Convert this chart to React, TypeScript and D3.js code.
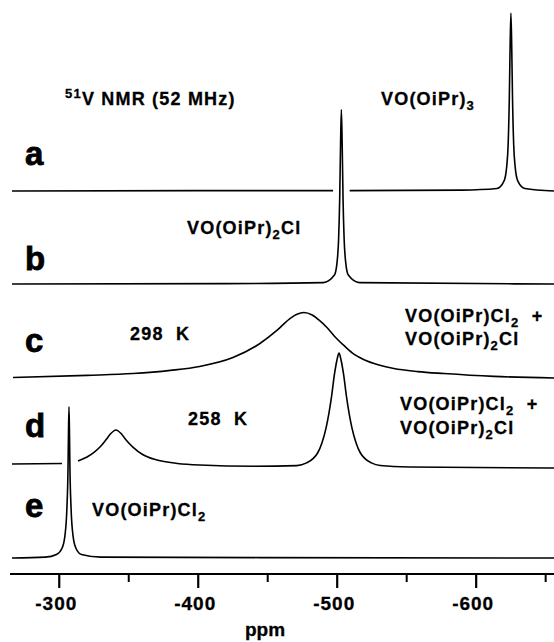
import React, { useEffect, useRef } from 'react';
import * as d3 from 'd3';

type Pt = [number, number] | null;

// axis ticks (ppm)
const majorTicks = [-300, -400, -500, -600];
const minorTicks = [-350, -450, -550, -650];

// traced spectra: [ppm, intensity in % of the tallest peak]; null = pen gap
const specA: Pt[] = [
  [-266, 0], [-400, 0.2], [-497, 0.2], null, [-509, 0.2], [-590, 0.5], [-615, 1.4],
  [-620, 5.5], [-622, 14], [-623, 26], [-623.8, 50], [-624.4, 80], [-625, 100],
  [-625.6, 80], [-626.2, 50], [-627, 26], [-628, 14], [-630, 5.5], [-635, 1.4], [-656, 0],
];
const specB: Pt[] = [
  [-266, 0], [-420, 0.2], [-490, 0.8], [-498, 5], [-500, 13], [-501, 25], [-501.8, 48],
  [-502.4, 78], [-503, 98], [-503.6, 78], [-504.2, 48], [-505, 25], [-506, 13], [-508, 5],
  [-516, 0.8], [-656, 0],
];
const specC: Pt[] = [
  [-266.7, 0.3], [-320, 1.5], [-353, 2.5], [-380, 4.3], [-401, 6.5], [-425, 11.5],
  [-444.4, 19.4], [-456.6, 26.7], [-466, 33.4], [-471, 35.8], [-476, 36.8], [-482, 35.4],
  [-487, 32.5], [-492.6, 28.4], [-498, 23.5], [-504.8, 18.3], [-511, 14], [-519, 10.4],
  [-530, 7.3], [-540.8, 5.3], [-558, 3.6], [-576.8, 2.5], [-612.8, 0.9], [-656, 0],
];
const specD: Pt[] = [
  [-266, 1.7], [-302, 2.0], null, [-313.5, 3.4], [-320, 5.6], [-325, 8.2], [-329.3, 11.2],
  [-333.8, 15.5], [-336.8, 18.5], [-340.8, 20.8], [-344.8, 18.5], [-347.8, 15.5],
  [-353, 11.2], [-360, 7], [-370.3, 3.9], [-385, 2], [-401, 1.1], [-440, 0.4],
  [-471, 0.8], [-478, 2.3], [-483, 5], [-486, 8], [-489, 13.5], [-492, 22], [-494, 30],
  [-496, 40], [-498, 52], [-499.8, 60], [-501.3, 64], [-502.8, 60], [-504.6, 52],
  [-506.6, 40], [-508.6, 30], [-510.6, 22], [-513.6, 13.5], [-516.6, 8], [-519.6, 5],
  [-524.6, 2.3], [-531, 0.8], [-552, 0], [-656, -0.6],
];
const specE: Pt[] = [
  [-266, 0], [-290, 0.5], [-298, 2], [-302, 5.5], [-304, 12], [-305.5, 28], [-306.3, 50],
  [-306.6, 68], [-307, 85], [-307.4, 68], [-307.7, 50], [-308.5, 28], [-310, 12],
  [-312, 5.5], [-316, 2], [-330, 0.5], [-656, 0],
];

const traceLetters = ['a', 'b', 'c', 'd', 'e'];
const traceData = [specA, specB, specC, specD, specE];

const App: React.FC = () => {
  const svgRef = useRef<SVGSVGElement>(null);

  useEffect(() => {
    if (!svgRef.current) return;
    const svg = d3.select(svgRef.current);
    svg.selectAll('*').remove();

    const width = 554;
    const height = 642;
    const font = "'Liberation Sans', Arial, sans-serif";

    svg.attr('width', width).attr('height', height);
    svg.append('rect').attr('width', width).attr('height', height).attr('fill', '#fff');

    const x = d3.scaleLinear().domain([-266, -656]).range([12, 554]);
    const y = d3.scaleLinear().domain([0, 100]).range([0, 178]);

    // baseline of each trace and where its letter sits
    const baselines = [191, 284, 378, 467, 558];
    const letterY = [165, 270, 352, 437, 517];

    traceData.forEach((data, i) => {
      const line = d3.line<Pt>()
        .defined(d => d !== null)
        .x(d => x(d![0]))
        .y(d => baselines[i] - y(d![1]))
        .curve(d3.curveMonotoneX);
      svg.append('path')
        .attr('d', line(data))
        .attr('fill', 'none')
        .attr('stroke', '#000')
        .attr('stroke-width', 1.6);

      svg.append('text')
        .attr('x', 25)
        .attr('y', letterY[i])
        .attr('font-family', font)
        .attr('font-weight', 'bold')
        .attr('font-size', 33)
        .attr('stroke', '#000')
        .attr('stroke-width', 0.8)
        .text(traceLetters[i]);
    });

    // axis
    const axisY = 574;
    svg.append('line')
      .attr('x1', 10).attr('x2', 554)
      .attr('y1', axisY).attr('y2', axisY)
      .attr('stroke', '#000').attr('stroke-width', 2.2);

    svg.selectAll('.major')
      .data(majorTicks)
      .join('line')
      .attr('class', 'major')
      .attr('x1', d => x(d)).attr('x2', d => x(d))
      .attr('y1', axisY).attr('y2', axisY + 14)
      .attr('stroke', '#000').attr('stroke-width', 2.2);

    svg.selectAll('.minor')
      .data(minorTicks)
      .join('line')
      .attr('class', 'minor')
      .attr('x1', d => x(d)).attr('x2', d => x(d))
      .attr('y1', axisY).attr('y2', axisY + 8)
      .attr('stroke', '#000').attr('stroke-width', 2);

    svg.selectAll('.tick-label')
      .data(majorTicks)
      .join('text')
      .attr('class', 'tick-label')
      .attr('x', d => x(d) - 3)
      .attr('y', 610)
      .attr('text-anchor', 'middle')
      .attr('font-family', font)
      .attr('font-weight', 'bold')
      .attr('font-size', 19)
      .attr('letter-spacing', 1)
      .attr('stroke', '#000')
      .attr('stroke-width', 0.3)
      .text(d => String(d));

    svg.append('text')
      .attr('x', 265).attr('y', 636)
      .attr('text-anchor', 'middle')
      .attr('font-family', font)
      .attr('font-weight', 'bold')
      .attr('font-size', 19)
      .attr('stroke', '#000')
      .attr('stroke-width', 0.3)
      .text('ppm');

    // labels: plain text with optional sub/superscripts
    const label = (lx: number, ly: number, parts: [string, 'n' | 'sub' | 'sup'][]) => {
      const t = svg.append('text')
        .attr('x', lx).attr('y', ly)
        .attr('font-family', font)
        .attr('font-weight', 'bold')
        .attr('font-size', 18)
        .attr('letter-spacing', 1.2)
        .attr('stroke', '#000')
        .attr('stroke-width', 0.3)
        .style('white-space', 'pre');
      let shift = 0;
      parts.forEach(([s, kind]) => {
        const target = kind === 'sub' ? 5 : kind === 'sup' ? -7 : 0;
        t.append('tspan')
          .attr('dy', target - shift)
          .attr('font-size', kind === 'n' ? 18 : 13)
          .text(s);
        shift = target;
      });
    };

    label(65, 105, [['51', 'sup'], ['V NMR (52 MHz)', 'n']]);
    label(381, 105, [['VO(OiPr)', 'n'], ['3', 'sub']]);
    label(187, 234, [['VO(OiPr)', 'n'], ['2', 'sub'], ['Cl', 'n']]);
    label(130, 340, [['298  K', 'n']]);
    label(405, 322, [['VO(OiPr)Cl', 'n'], ['2', 'sub'], ['  +', 'n']]);
    label(405, 345, [['VO(OiPr)', 'n'], ['2', 'sub'], ['Cl', 'n']]);
    label(188, 425, [['258  K', 'n']]);
    label(400, 410, [['VO(OiPr)Cl', 'n'], ['2', 'sub'], ['  +', 'n']]);
    label(400, 434, [['VO(OiPr)', 'n'], ['2', 'sub'], ['Cl', 'n']]);
    label(92, 516, [['VO(OiPr)Cl', 'n'], ['2', 'sub']]);
  }, []);

  return (
    <svg
      ref={svgRef}
      style={{ position: 'absolute', left: 0, top: 0, display: 'block' }}
    ></svg>
  );
};

export default App;
